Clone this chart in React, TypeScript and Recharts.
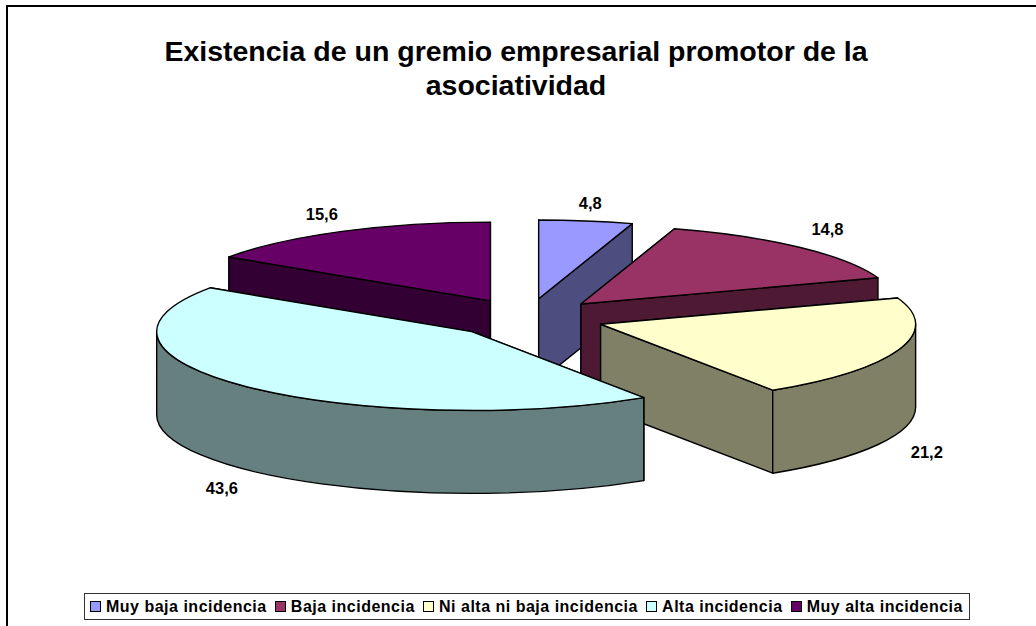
import React from "react";
import { PieChart, Pie, Legend } from "recharts";

const categories = ["Muy baja incidencia", "Baja incidencia", "Ni alta ni baja incidencia", "Alta incidencia", "Muy alta incidencia"];
const values = [4.8, 14.8, 21.2, 43.6, 15.6];
const topColors = ["#9999FF", "#993366", "#FFFFCC", "#CCFFFF", "#660066"];
const sideColors = ["#4D4D80", "#4D1933", "#808066", "#668080", "#330033"];
const titleLines = ["Existencia de un gremio empresarial promotor de la", "asociatividad"];

const W = 1036;
const H = 626;
const CX = 527;
const CY = 318;
const RADIUS = 315;
const SQUASH = 0.25;
const DEPTH = 83;
const EXPLODE = 0.2468;
const STROKE = "#000000";

// Back slices are painted first: the last slice goes round to the front of the list.
const order = [4, 0, 1, 2, 3];
// Small manual label adjustments, in paint order.
const labelNudgeX = [-4, -1, 4, -5, -1];
const labelNudgeY = [1, 3, -3, 8, -2];
const pieData = order.map((i) => ({
  name: categories[i],
  value: values[i],
  fill: topColors[i],
  side: sideColors[i],
}));
const total = values.reduce((s, v) => s + v, 0);
const START = 90 + (values[4] / total) * 360;

const rad = (d: number) => (d * Math.PI) / 180;

function apex(cx: number, cy: number, r: number, midClock: number) {
  return {
    x: cx + EXPLODE * r * Math.sin(rad(midClock)),
    y: cy - EXPLODE * r * SQUASH * Math.cos(rad(midClock)),
  };
}

function Slice3D(props: any) {
  const { cx, cy, outerRadius, startAngle, endAngle, fill, payload } = props;
  const side = props.side ?? payload?.side;
  let t0 = (((90 - startAngle) % 360) + 360) % 360;
  if (t0 > 359.99) t0 -= 360;
  const t1 = t0 + (startAngle - endAngle);
  const a = outerRadius;
  const b = outerRadius * SQUASH;
  const c = apex(cx, cy, outerRadius, (t0 + t1) / 2);
  const pt = (t: number, dy = 0) => ({
    x: c.x + a * Math.sin(rad(t)),
    y: c.y - b * Math.cos(rad(t)) + dy,
  });
  const face = (t: number) => {
    const p = pt(t);
    return `M${c.x},${c.y}L${p.x},${p.y}L${p.x},${p.y + DEPTH}L${c.x},${c.y + DEPTH}Z`;
  };
  const r0 = Math.max(t0, 90);
  const r1 = Math.min(t1, 270);
  let rim = "";
  if (r1 > r0) {
    const p0 = pt(r0);
    const p1 = pt(r1);
    const q1 = pt(r1, DEPTH);
    const q0 = pt(r0, DEPTH);
    rim = `M${p0.x},${p0.y}A${a},${b} 0 0 1 ${p1.x},${p1.y}L${q1.x},${q1.y}A${a},${b} 0 0 0 ${q0.x},${q0.y}Z`;
  }
  const s = pt(t0);
  const e = pt(t1);
  const top = `M${c.x},${c.y}L${s.x},${s.y}A${a},${b} 0 ${t1 - t0 > 180 ? 1 : 0} 1 ${e.x},${e.y}Z`;
  const common = { stroke: STROKE, strokeWidth: 1.4, strokeLinejoin: "round" as const };
  return (
    <g>
      <path d={face(t0)} fill={side} {...common} />
      <path d={face(t1)} fill={side} {...common} />
      {rim && <path d={rim} fill={side} {...common} />}
      <path d={top} fill={fill} {...common} />
    </g>
  );
}

function SliceLabel(props: any) {
  const { cx, cy, midAngle, outerRadius, value, index } = props;
  const m = 90 - midAngle;
  const c = apex(cx, cy, outerRadius, m);
  const cos = Math.cos(rad(m));
  const x = c.x + 1.11 * outerRadius * Math.sin(rad(m)) + labelNudgeX[index];
  const y = c.y - 1.27 * outerRadius * SQUASH * cos + (cos < 0 ? DEPTH + 5 : 0) + labelNudgeY[index];
  return (
    <text
      x={x}
      y={y}
      textAnchor="middle"
      dominantBaseline="central"
      fontFamily="'Liberation Sans', Arial, sans-serif"
      fontWeight="bold"
      fontSize={16.5}
      fill="#000"
    >
      {String(value).replace(".", ",")}
    </text>
  );
}

function LegendBox() {
  return (
    <div
      style={{
        boxSizing: "border-box",
        width: 886,
        height: 27,
        border: "1px solid #333",
        background: "#fff",
        display: "flex",
        alignItems: "center",
        justifyContent: "space-between",
        padding: "0 6px 0 5px",
        fontFamily: "'Liberation Sans', Arial, sans-serif",
        fontWeight: "bold",
        fontSize: 16,
        letterSpacing: 0.5,
        color: "#000",
        whiteSpace: "nowrap",
      }}
    >
      {categories.map((name, i) => (
        <span key={name} style={{ display: "inline-flex", alignItems: "center" }}>
          <span
            style={{
              display: "inline-block",
              boxSizing: "border-box",
              width: 11,
              height: 11,
              marginRight: 5,
              background: topColors[i],
              border: "1px solid #000",
            }}
          />
          {name}
        </span>
      ))}
    </div>
  );
}

export default function App() {
  return (
    <div style={{ position: "absolute", left: 0, top: 0, width: W, height: H, background: "#fff", overflow: "hidden" }}>
      <div style={{ position: "absolute", left: 6, top: 5, width: W - 6, height: 2, background: "#000" }} />
      <div style={{ position: "absolute", left: 6, top: 5, width: 2, height: H - 5, background: "#000" }} />
      <PieChart width={W} height={H} margin={{ top: 0, right: 0, bottom: 0, left: 0 }}>
        <text
          textAnchor="middle"
          fontFamily="'Liberation Sans', Arial, sans-serif"
          fontWeight="bold"
          fontSize={28.5}
          fill="#000"
        >
          <tspan x={516} y={61}>{titleLines[0]}</tspan>
          <tspan x={516} y={95}>{titleLines[1]}</tspan>
        </text>
        <Pie
          data={pieData}
          dataKey="value"
          nameKey="name"
          cx={CX}
          cy={CY}
          innerRadius={0}
          outerRadius={RADIUS}
          startAngle={START}
          endAngle={START - 360}
          isAnimationActive={false}
          shape={Slice3D}
          label={SliceLabel}
          labelLine={false}
        />
        <Legend
          content={<LegendBox />}
          wrapperStyle={{ position: "absolute", left: 84, top: 593, width: 886, bottom: "auto", right: "auto" }}
        />
      </PieChart>
    </div>
  );
}
